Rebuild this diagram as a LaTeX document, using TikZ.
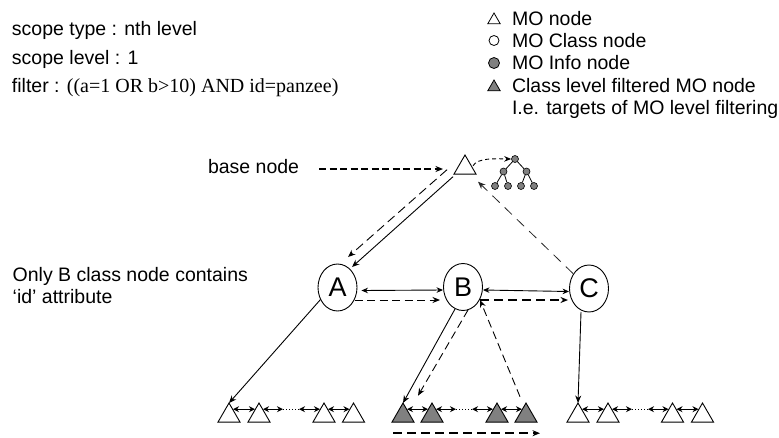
\documentclass[tikz,border=0pt]{standalone}
\usepackage{fontspec}
\setmainfont{Liberation Sans}
\newfontfamily\timesfont{Liberation Serif}
\usetikzlibrary{shapes.geometric,arrows.meta}
\definecolor{fillgray}{RGB}{128,128,128}

\begin{document}
\begin{tikzpicture}[x=1pt,y=-1pt,
  txt/.style={anchor=base west,inner sep=0pt,outer sep=0pt,font=\fontsize{19.5}{22}\selectfont},
  mo/.style={regular polygon,regular polygon sides=3,minimum size=25.4pt,inner sep=0pt,outer sep=0pt,draw,line width=0.9pt,fill=white},
  fmo/.style={mo,fill=fillgray},
  lmo/.style={regular polygon,regular polygon sides=3,minimum size=14.4pt,inner sep=0pt,outer sep=0pt,draw,line width=0.8pt,fill=white},
  lfmo/.style={lmo,fill=fillgray},
  lcls/.style={circle,draw,line width=0.8pt,minimum size=10pt,inner sep=0pt},
  linfo/.style={circle,draw,line width=0.8pt,fill=fillgray,minimum size=11pt,inner sep=0pt},
  cls/.style={ellipse,draw,line width=0.9pt,minimum width=39pt,minimum height=47pt,inner sep=0pt,font=\fontsize{27}{29}\selectfont},
  info/.style={circle,draw,line width=0.6pt,fill=fillgray,minimum size=7pt,inner sep=0pt},
  link/.style={line width=0.9pt},
  tip/.style={-{Stealth[length=7.5pt,width=6pt]}},
  bitip/.style={{Stealth[length=6.5pt,width=5.5pt]}-{Stealth[length=6.5pt,width=5.5pt]}},
  smallbi/.style={{Stealth[length=6pt,width=6pt]}-{Stealth[length=6pt,width=6pt]},line width=1pt},
  longdash/.style={dash pattern=on 9pt off 5pt,line width=0.9pt},
  middash/.style={dash pattern=on 8pt off 4.5pt,line width=0.9pt},
  thickdash/.style={dash pattern=on 9pt off 5pt,line width=1.8pt},
]
\useasboundingbox (0,0) rectangle (779,437);

% scope description
\node[txt] (st) at (12,35.7) {scope type : nth level};
\node[txt] (sl) at (12,64) {scope level : 1};
\node[txt] (fl) at (12,92.3) {filter : {\timesfont\fontsize{20}{22}\selectfont ((a=1 OR b>10) AND id=panzee)}};

% legend
\node[lmo] (k1) at (494,20.2) {};
\node[txt] (k1t) at (512,25) {MO node};
\node[lcls] (k2) at (494,40.5) {};
\node[txt] (k2t) at (512,47) {MO Class node};
\node[linfo] (k3) at (494,63) {};
\node[txt] (k3t) at (512,69.5) {MO Info node};
\node[lfmo] (k4) at (494,87.2) {};
\node[txt] (k4t) at (512,92) {Class level filtered MO node};
\node[txt] (k5t) at (512,114) {I.e. targets of MO level filtering};

% side notes
\node[txt] (bn) at (208,173.5) {base node};
\node[txt] (on1) at (12.7,281.7) {Only B class node contains};
\node[txt] (on2) at (12.7,303.3) {‘id’ attribute};

% base MO node and its info tree
\node[mo] (root) at (465,167.7) {};
\node[info] (t0) at (515,159) {};
\node[info] (t1) at (503.5,171.5) {};
\node[info] (t2) at (526.5,171.5) {};
\node[info] (t3) at (495,186) {};
\node[info] (t4) at (508,186) {};
\node[info] (t5) at (521,186) {};
\node[info] (t6) at (534,186) {};
\draw[line width=0.8pt] (t0) -- (t1) (t0) -- (t2)
  (t1) -- (t3) (t1) -- (t4) (t2) -- (t5) (t2) -- (t6);

% class nodes
\node[cls] (A) at (337.5,287.5) {A};
\node[cls] (B) at (463,287) {B};
\node[cls] (C) at (589,288.5) {C};

% MO nodes below the classes
\foreach \n/\x in {w1/229,w2/259,w3/324,w4/353.5}
  \node[mo] (\n) at (\x,415.7) {};
\foreach \n/\x in {g1/403,g2/432,g3/497,g4/526}
  \node[fmo] (\n) at (\x,415.7) {};
\foreach \n/\x in {r1/578,r2/608,r3/672.5,r4/702.5}
  \node[mo] (\n) at (\x,415.7) {};

% sibling links
\foreach \p in {w,g,r}{
  \draw[smallbi] ([shift={(4,-6.5)}]\p1.center) -- ([shift={(-4,-6.5)}]\p2.center);
  \draw[smallbi] ([shift={(4,-6.5)}]\p2.center) -- ++(20,0) coordinate (\p d1);
  \draw[dotted,line width=1pt] (\p d1) -- ++(16,0) coordinate (\p d2);
  \draw[smallbi] (\p d2) -- ([shift={(-4,-6.5)}]\p3.center);
  \draw[smallbi] ([shift={(4,-6.5)}]\p3.center) -- ([shift={(-4,-6.5)}]\p4.center);
}

% base node pointer and info tree pointer
\draw[dash pattern=on 7pt off 3.5pt,line width=1.3pt,-{Stealth[length=7.5pt,width=6pt]}]
  ([shift={(20,-4.5)}]bn.base east) -- ([shift={(-22,1.3)}]root.center);
\draw[dash pattern=on 4pt off 3pt,line width=0.9pt,-{Stealth[length=7pt,width=5.5pt]}]
  ([shift={(8,-2)}]root.center) .. controls ([shift={(13,-10)}]root.center) and ([shift={(30,-9)}]root.center) .. (t0.west);

% root to A
\draw[link,tip] ([shift={(-12,9)}]root.center) -- ([shift={(14.5,-20.5)}]A.center);
\draw[longdash,tip] ([shift={(-18,2)}]root.center) -- ([shift={(10.5,-30.5)}]A.center);
% C back to root
\draw[dash pattern=on 10pt off 7pt,line width=0.8pt,black!85,tip] ([shift={(-16,-15)}]C.center) -- ([shift={(13,14)}]root.center);

% class to class
\draw[link,bitip] ([shift={(4,3)}]A.east) -- ([shift={(0,3)}]B.west);
\draw[middash,tip] ([shift={(17,12.5)}]A.center) -- ([shift={(-23,13)}]B.center);
\draw[link,bitip] ([shift={(0,3)}]B.east) -- ([shift={(0,3)}]C.west);
\draw[thickdash,tip] ([shift={(17,13)}]B.center) -- ([shift={(-21,11.5)}]C.center);

% classes to their MO nodes
\draw[link,tip] ([shift={(-17,12)}]A.center) -- (w1.corner 1);
\draw[link,tip] ([shift={(-8,22)}]B.center) -- (g1.corner 1);
\draw[middash,tip] ([shift={(5,23)}]B.center) -- ([shift={(15,-20)}]g1.center);
\draw[middash,tip] ([shift={(-6,-19)}]g4.center) -- ([shift={(17,13)}]B.center);
\draw[link,tip] ([shift={(-8,23.5)}]C.center) -- (r1.corner 1);

% filtering order
\draw[thickdash,tip] ([shift={(-10,17.5)}]g1.center) -- ([shift={(14,17.5)}]g4.center);
\end{tikzpicture}
\end{document}
